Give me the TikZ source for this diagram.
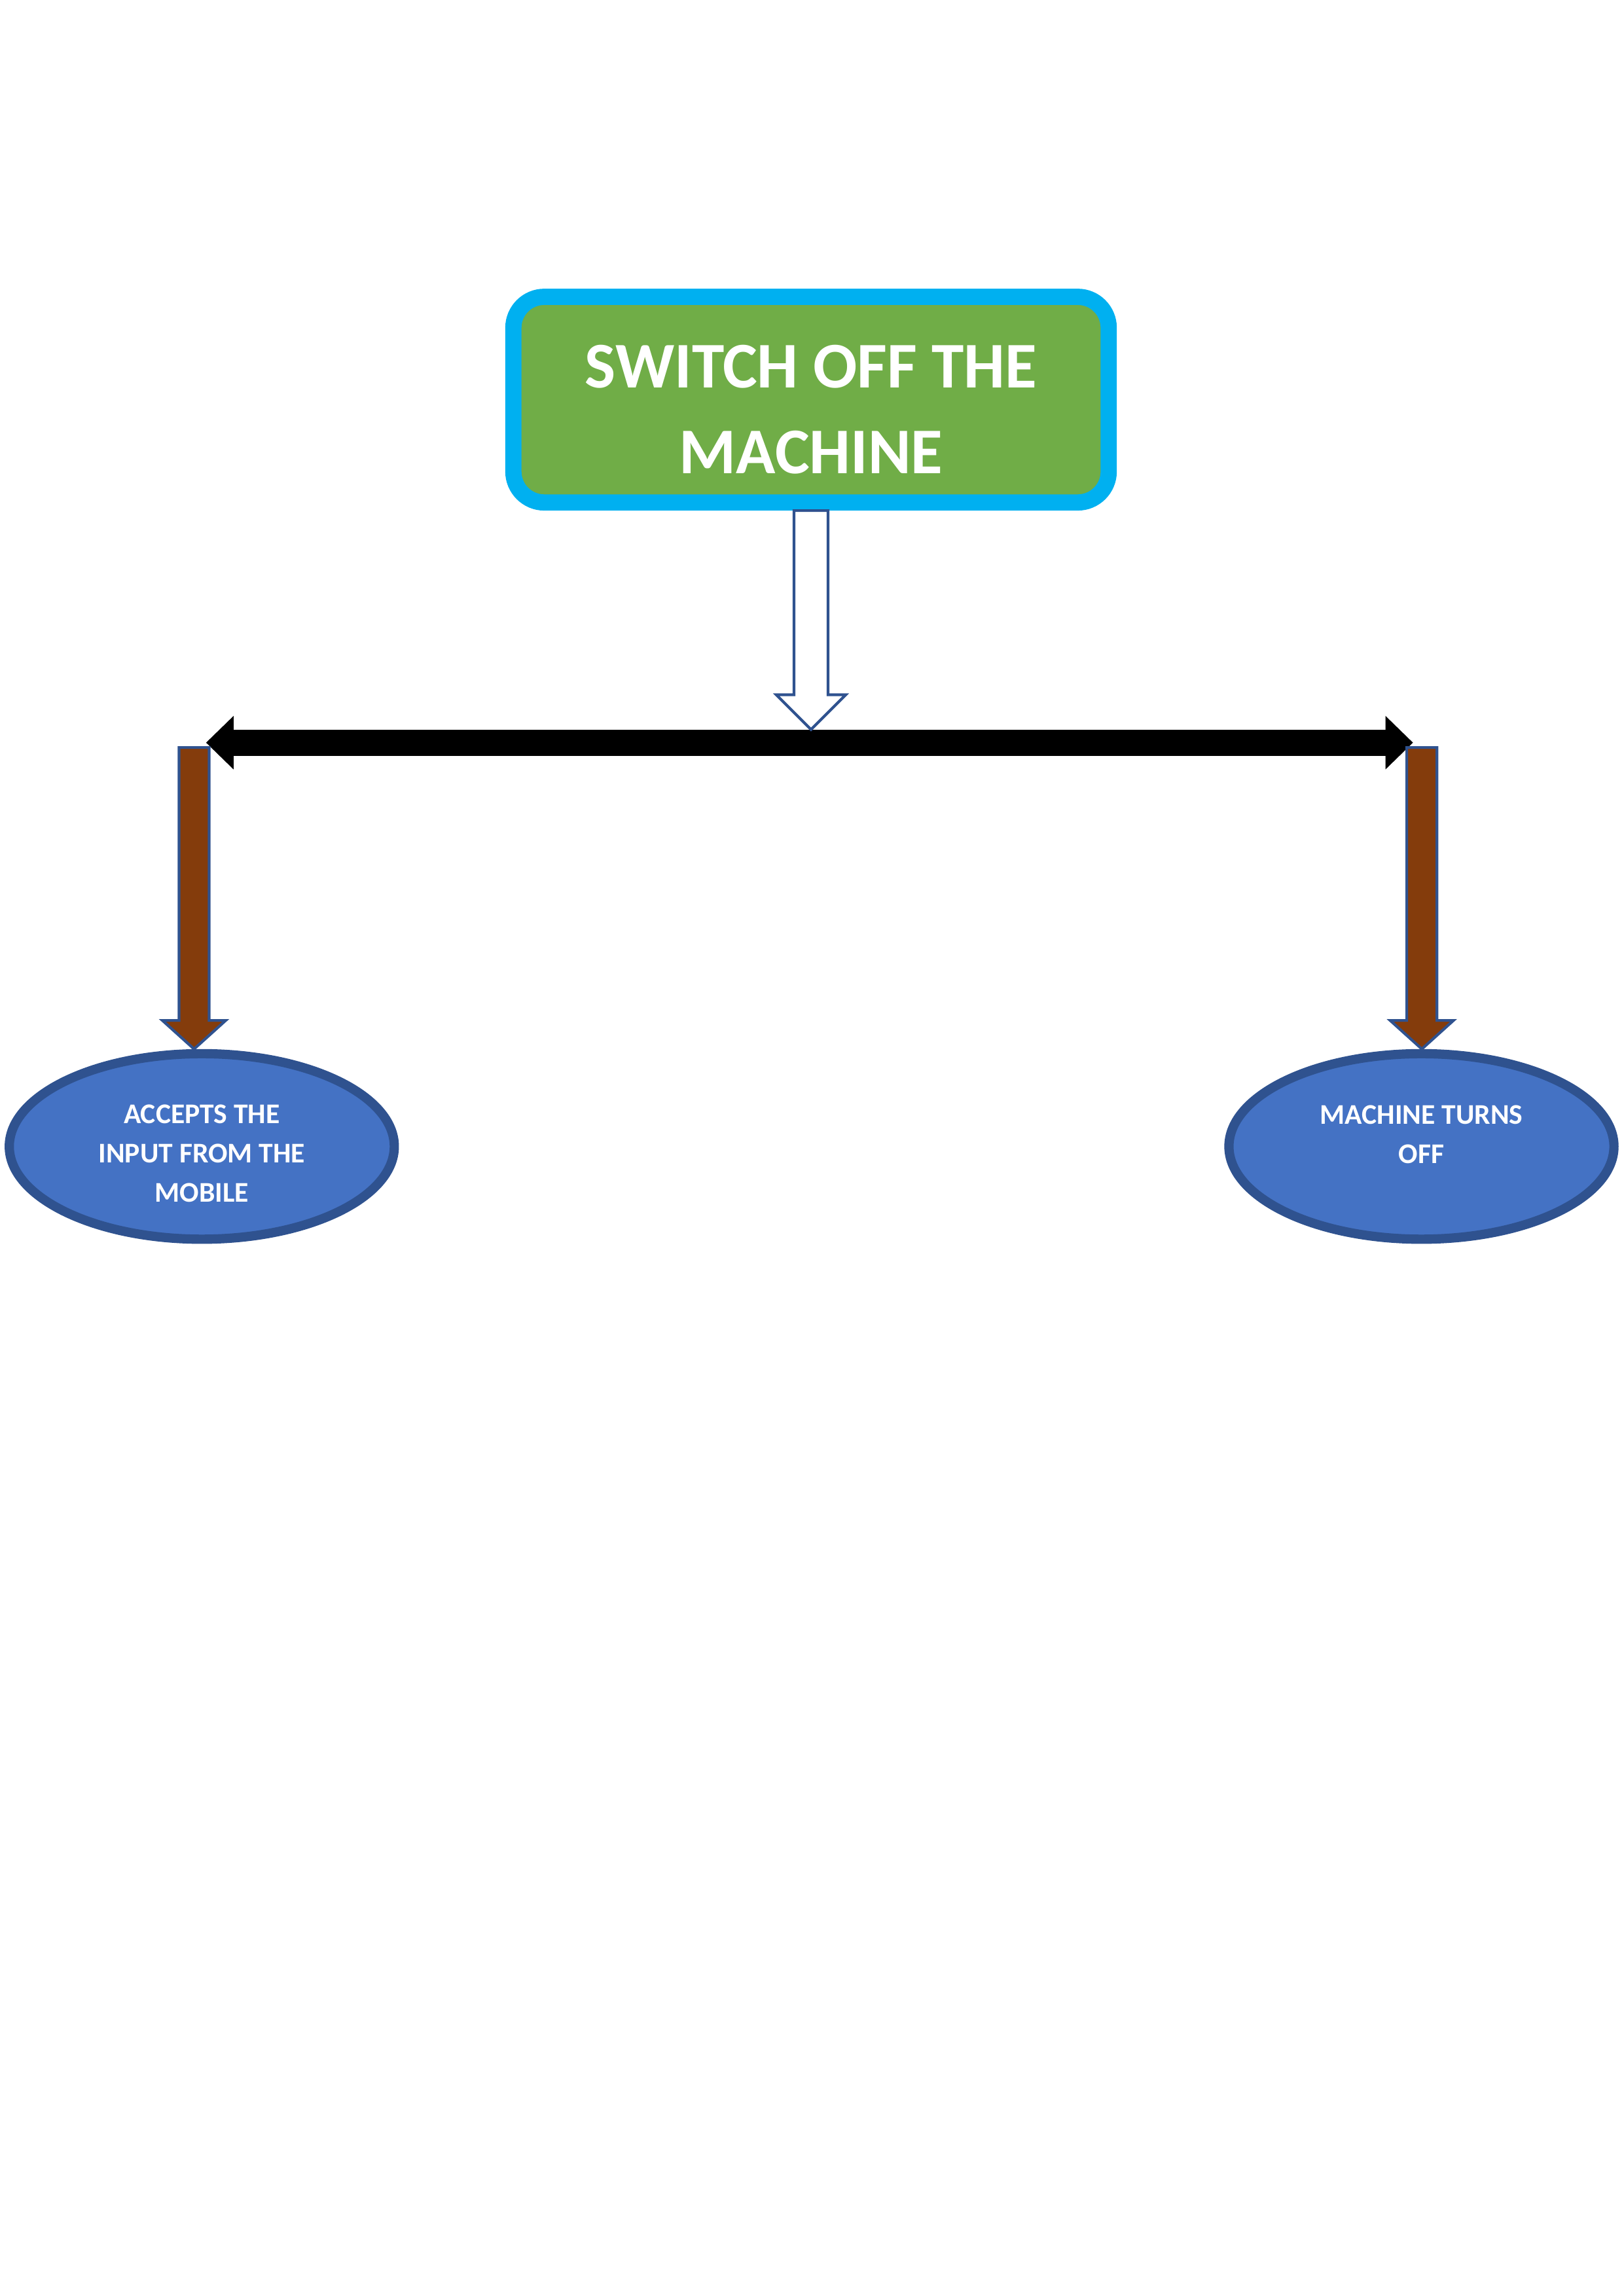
\documentclass[tikz,border=0pt]{standalone}
\usepackage{fontspec}
\setmainfont{Carlito}
\usetikzlibrary{calc,arrows.meta,shapes.geometric}
\definecolor{vert}{HTML}{70AD47}
\definecolor{bleuciel}{HTML}{00B0F0}
\definecolor{bleufonce}{HTML}{2F528F}
\definecolor{bleu}{HTML}{4472C4}
\definecolor{brun}{HTML}{843C0C}
\tikzset{
    tete/.tip={Triangle[length=0.356cm,width=0.694cm,line width=0pt]},
    cadre/.style={draw=bleuciel,fill=vert,line width=0.21cm,rounded corners=0.4cm,minimum width=7.7cm,minimum height=2.66cm,inner sep=0pt},
    titre/.style={text=white,align=center,inner sep=0pt,font=\bfseries\fontsize{24}{31.5}\selectfont},
    ovale/.style={ellipse,draw=bleufonce,fill=bleu,line width=0.12cm,minimum width=4.98cm,minimum height=2.4cm,inner sep=0pt},
    petit/.style={text=white,align=center,inner sep=0pt,font=\bfseries\fontsize{10.5}{14.4}\selectfont},
    barre/.style={line width=0.339cm,tete-tete},
    creuse/.style={draw=bleufonce,fill=white,line width=1pt},
    pleine/.style={draw=bleufonce,fill=brun,line width=1pt},
  }

\begin{document}
\begin{tikzpicture}
			          \useasboundingbox (0,0) rectangle (21,29.7);

				  %CADRE
				  \node[cadre] (switch) at (10.49,24.53) {};
				  \node[titre] (switchT) at ($(switch)+(0,-0.13)$) {SWITCH OFF THE\\MACHINE};

				  %OVALES
				  \node[ovale] (accepte) at (2.61,14.87) {};
				  \node[petit] (accepteT) at ($(accepte)+(0,-0.09)$) {ACCEPTS THE\\INPUT FROM THE\\MOBILE};
				  \node[ovale] (eteint) at (18.385,14.87) {};
				  \node[petit] (eteintT) at ($(eteint)+(0,-0.1)$) {MACHINE TURNS\\OFF\\\mbox{}};

				  %BARRE
				  \coordinate (barG) at (2.666,20.093);
				  \coordinate (barD) at (18.275,20.093);
				  \draw[barre] (barG) -- (barD);

				  %FLECHE creuse
				  \coordinate (haut) at (switch.south);
				  \coordinate (pointe) at ($(barG)!(haut)!(barD)+(0,0.17)$);
				  \draw[creuse] ($(haut)+(-0.22,0)$) -- ($(pointe)+(-0.22,0.45)$) -- ($(pointe)+(-0.45,0.45)$) -- (pointe)
				        -- ($(pointe)+(0.45,0.45)$) -- ($(pointe)+(0.22,0.45)$) -- ($(haut)+(0.22,0)$) -- cycle;

				  %FLECHES pleines
				  \coordinate (dG) at (2.51,20.03);
				  \coordinate (pG) at (dG |- accepte.north);
				  \draw[pleine] ($(dG)+(-0.195,0)$) -- ($(pG)+(-0.195,0.37)$) -- ($(pG)+(-0.41,0.37)$) -- (pG)
				        -- ($(pG)+(0.41,0.37)$) -- ($(pG)+(0.195,0.37)$) -- ($(dG)+(0.195,0)$) -- cycle;
				  \coordinate (dD) at (18.39,20.03);
				  \coordinate (pD) at (dD |- eteint.north);
				  \draw[pleine] ($(dD)+(-0.195,0)$) -- ($(pD)+(-0.195,0.37)$) -- ($(pD)+(-0.41,0.37)$) -- (pD)
				        -- ($(pD)+(0.41,0.37)$) -- ($(pD)+(0.195,0.37)$) -- ($(dD)+(0.195,0)$) -- cycle;

				  \end{tikzpicture}
\end{document}
